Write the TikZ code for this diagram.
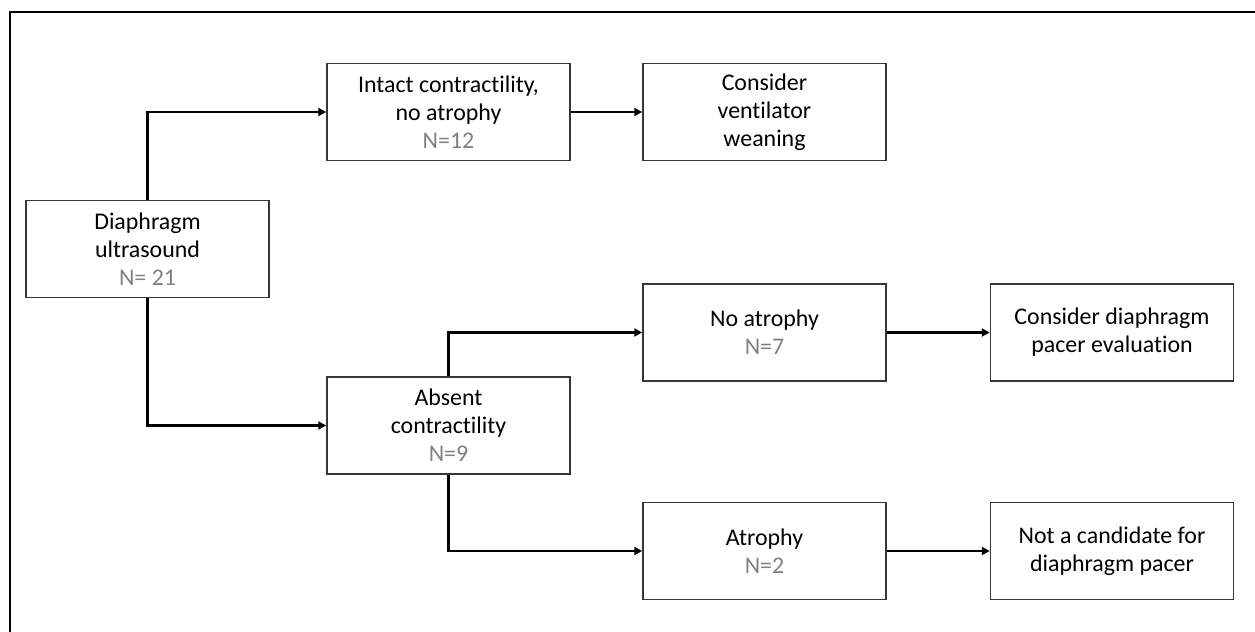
\documentclass[tikz,border=0pt]{standalone}
\usepackage{fontspec}
\setmainfont[Ligatures=NoCommon]{Carlito}
\usetikzlibrary{arrows.meta}
\definecolor{ngray}{RGB}{128,128,128}
\definecolor{edgegray}{RGB}{55,55,55}

\begin{document}
\begin{tikzpicture}[x=0.02cm,y=-0.02cm,
  box/.style={draw=edgegray,line width=0.9pt,minimum width=4.86cm,minimum height=1.94cm,
    inner sep=0pt,align=center,font=\fontsize{13.6}{15.9}\selectfont},
  flow/.style={line width=1.5pt,-{Triangle[length=4.5pt,width=4.5pt]}}]

\useasboundingbox (0,0) rectangle (1255,632);
\draw[line width=1.6pt] (10,632)--(10,12)--(1255,12);

\node[box] (diag) at (147.5,249) {Diaphragm\\ultrasound\\{\color{ngray}N= 21}};
\node[box] (intact) at (448.5,112) {Intact contractility,\\no atrophy\\{\color{ngray}N=12}};
\node[box] (vent) at (764.5,112) {Consider\\ventilator\\weaning};
\node[box] (absent) at (448.5,425.5) {Absent\\contractility\\{\color{ngray}N=9}};
\node[box] (noatr) at (764.5,332.5) {No atrophy\\{\color{ngray}N=7}};
\node[box] (atr) at (764.5,551) {Atrophy\\{\color{ngray}N=2}};
\node[box] (pacer) at (1112,332.5) {Consider diaphragm\\pacer evaluation};
\node[box] (notcand) at (1112,551) {Not a candidate for\\diaphragm pacer};

\draw[flow] (diag.north) |- (intact.west);
\draw[flow] (diag.south) |- (absent.west);
\draw[flow] (intact) -- (vent);
\draw[flow] (absent.north) |- (noatr.west);
\draw[flow] (absent.south) |- (atr.west);
\draw[flow] (noatr) -- (pacer);
\draw[flow] (atr) -- (notcand);

\end{tikzpicture}
\end{document}
